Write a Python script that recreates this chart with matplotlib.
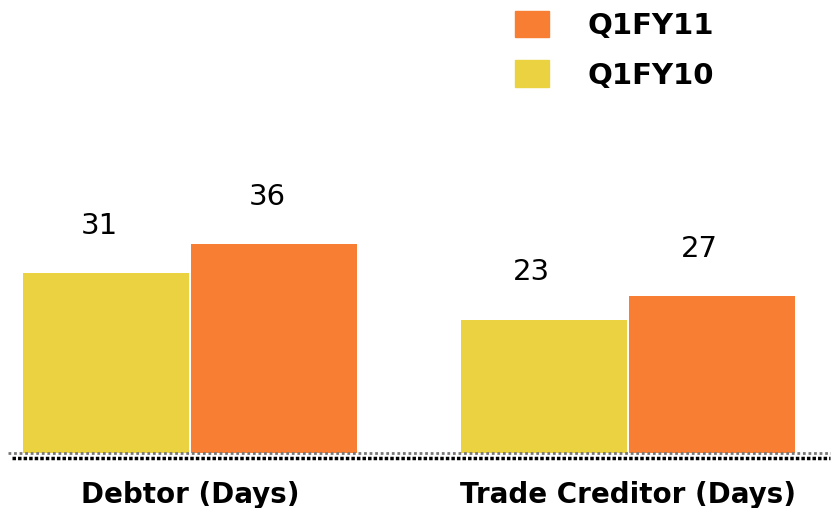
import matplotlib.pyplot as plt
from matplotlib.lines import Line2D
from matplotlib.patches import Patch

# === Données ===
categories = ['Debtor (Days)', 'Trade Creditor (Days)']
q1fy10 = [31, 23]
q1fy11 = [36, 27]
series_names = ['Q1FY10', 'Q1FY11']

jaune = '#EAD241'
orange = '#F77E32'

fig = plt.figure(figsize=(8.31, 5.08), dpi=100)
ax = fig.add_axes([0, (508 - 453) / 508, 1, 453 / 508])

x = list(range(len(categories)))
w = 0.379
gap = 2 / 438
x10 = [i - w / 2 - gap / 2 for i in x]
x11 = [i + w / 2 + gap / 2 for i in x]
ax.bar(x10, q1fy10, width=w, color=jaune)
ax.bar(x11, q1fy11, width=w, color=orange)

# valeurs au-dessus des barres (un peu décalées à gauche comme l'original)
decal = [-5, -9]
for i in x:
    ax.annotate(str(q1fy10[i]), (x10[i], q1fy10[i]), xytext=(decal[i], 34),
                textcoords='offset points', ha='center', va='center', fontsize=21)
    ax.annotate(str(q1fy11[i]), (x11[i], q1fy11[i]), xytext=(decal[i], 34),
                textcoords='offset points', ha='center', va='center', fontsize=21)

ax.set_xlim(-190 / 438, 641 / 438)
ax.set_ylim(0, 453 / 5.8)
ax.set_xticks(x)
ax.set_xticklabels(categories, fontsize=20, fontweight='bold')
ax.tick_params(axis='x', length=0, pad=20)
ax.set_yticks([])
for s in ax.spines.values():
    s.set_visible(False)

# lignes pointillées de base
fig.add_artist(Line2D([8 / 831, 1], [1 - 453 / 508] * 2, transform=fig.transFigure,
                      color='#777777', lw=2, linestyle=(0, (1, 1))))
fig.add_artist(Line2D([12 / 831, 830 / 831], [1 - 458 / 508] * 2, transform=fig.transFigure,
                      color='black', lw=2.5, linestyle=(0, (1, 0.6))))

handles = [Patch(color=orange), Patch(color=jaune)]
fig.legend(handles, [series_names[1], series_names[0]], loc='upper left',
           bbox_to_anchor=(515 / 831, 1 - 11 / 508), frameon=False,
           borderaxespad=0, borderpad=0,
           prop={'size': 21, 'weight': 'bold'}, handlelength=1.16, handleheight=1.0,
           handletextpad=1.34, labelspacing=0.7)

fig.savefig('out.png', dpi=100)
